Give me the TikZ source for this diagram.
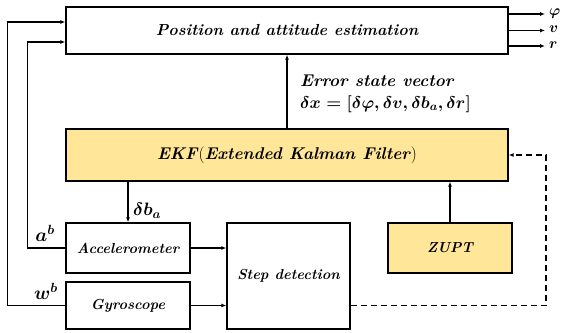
\RequirePackage{fix-cm}
\documentclass[tikz,border=0pt]{standalone}
\usepackage{amsmath}
\usetikzlibrary{arrows.meta}
\definecolor{boxyellow}{RGB}{255,230,153}
\begin{document}
\begin{tikzpicture}[x=1pt,y=-1pt,
  blk/.style={draw,line width=1.3pt,inner sep=0pt},
  conn/.style={line width=1.3pt,-{Latex[length=5pt,width=4pt]}},
  lbl/.style={inner sep=0pt},
  outlbl/.style={inner sep=0pt,anchor=west,font=\fontsize{15}{17}\selectfont\boldmath}]
\useasboundingbox (0,0) rectangle (567,332);
\node[blk,minimum width=442pt,minimum height=47pt,font=\fontsize{16}{18}\selectfont\bfseries\itshape] (pos) at (287,30.5) {Position and attitude estimation};
\node[blk,fill=boxyellow,minimum width=442pt,minimum height=52pt,font=\fontsize{17}{19}\selectfont\bfseries\itshape] (ekf) at (287,155) {EKF\textup{\mdseries(}Extended Kalman Filter\textup{\mdseries)}};
\node[blk,minimum width=124pt,minimum height=50pt,font=\fontsize{14.5}{16}\selectfont\bfseries\itshape] (acc) at (128,248) {Accelerometer};
\node[blk,minimum width=124pt,minimum height=47pt,font=\fontsize{14.5}{16}\selectfont\bfseries\itshape] (gyr) at (128,305.5) {Gyroscope};
\node[blk,minimum width=123pt,minimum height=106pt,font=\fontsize{14.5}{16}\selectfont\bfseries\itshape] (step) at (288.5,276) {Step detection};
\node[blk,fill=boxyellow,minimum width=124pt,minimum height=50pt,font=\fontsize{14.5}{17}\selectfont\bfseries\itshape] (zupt) at (450,248) {ZUPT};
% outputs
\coordinate (o1) at (545,14);
\coordinate (o2) at (545,30.5);
\coordinate (o3) at (545,46);
\draw[conn] (pos.east |- o1) -- (o1);
\draw[conn] (pos.east |- o2) -- (o2);
\draw[conn] (pos.east |- o3) -- (o3);
\node[outlbl] (phi) at (549,13.5) {$\varphi$};
\node[outlbl] (vv) at (549,29) {$v$};
\node[outlbl] (rr) at (549,45) {$r$};
% error state
\draw[conn] (ekf.north) -- (pos.south);
\node[lbl,anchor=west,font=\fontsize{17}{19}\selectfont\bfseries\itshape] (err) at (300,81) {Error state vector};
\node[lbl,anchor=west,font=\fontsize{17}{19}\selectfont\boldmath] (dx) at (300,104) {$\delta x=[\delta\varphi,\delta v,\delta b_a,\delta r]$};
% delta b_a
\draw[conn] (acc.north |- ekf.south) -- (acc.north);
\node[lbl,anchor=west,font=\fontsize{18}{20}\selectfont\boldmath] (dba) at (133,211) {$\delta b_a$};
% zupt
\draw[conn] (zupt.north) -- (zupt.north |- ekf.south);
% left feedback
\coordinate (lo) at (7.5,22);
\coordinate (li) at (27.5,42);
\draw[conn] (gyr.west) -| (lo) -- (pos.west |- lo);
\draw[conn] (acc.west) -| (li) -- (pos.west |- li);
\node[lbl,font=\fontsize{19}{21}\selectfont\boldmath] (ab) at (45,233) {$a^b$};
\node[lbl,font=\fontsize{19}{21}\selectfont\boldmath] (wb) at (46,291) {$w^b$};
% sensors to step
\draw[conn] (acc.east) -- (step.west |- acc.east);
\draw[conn] (gyr.east) -- (step.west |- gyr.east);
% dashed
\coordinate (dc) at (546,305.5);
\draw[conn,dash pattern=on 6pt off 4pt] (step.east |- gyr.east) -- (dc) |- (ekf.east);
\end{tikzpicture}
\end{document}
